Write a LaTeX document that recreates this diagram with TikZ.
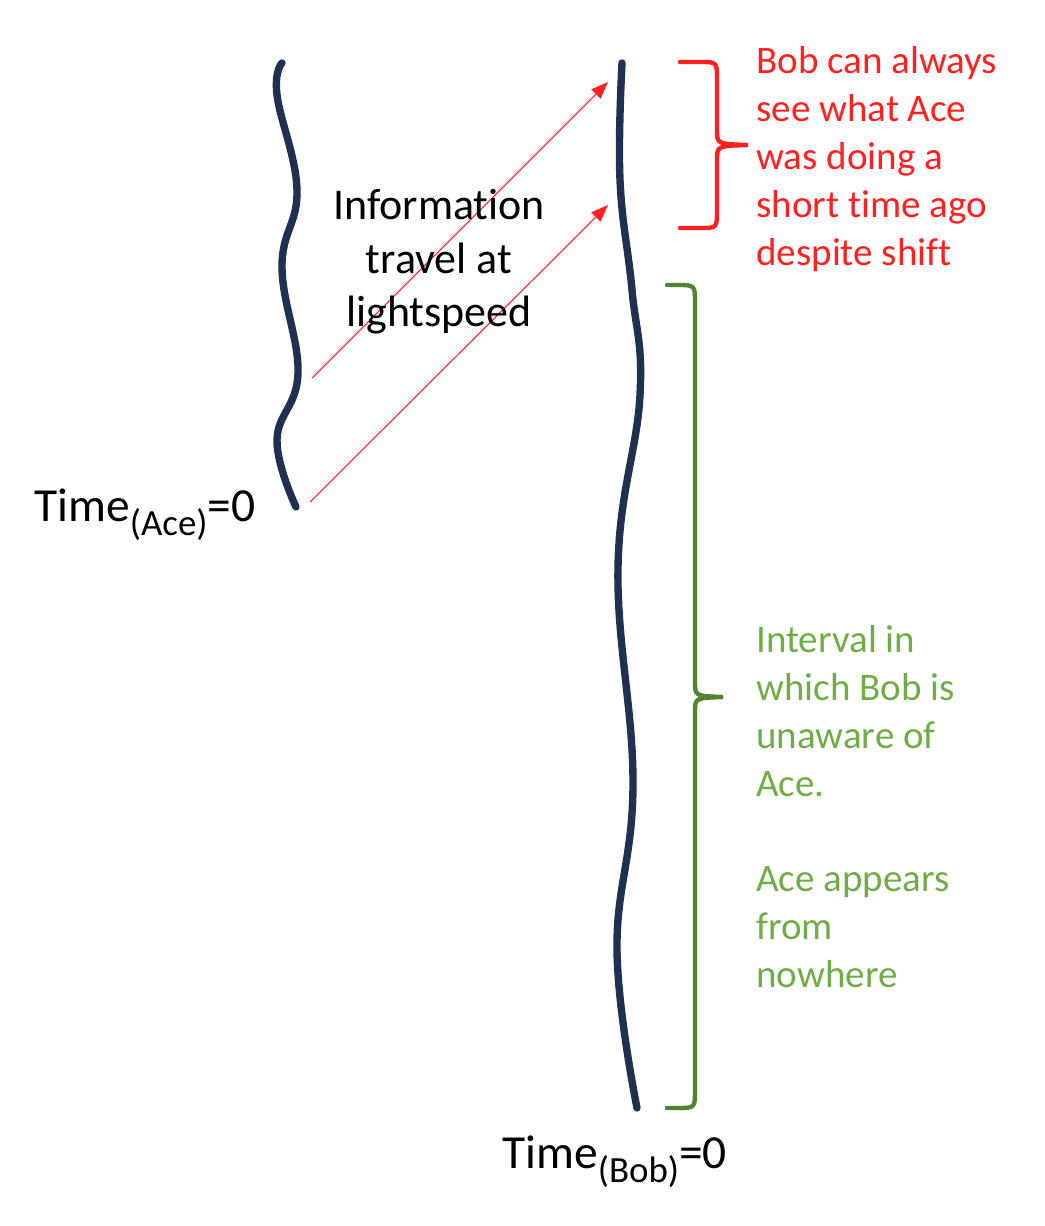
\documentclass[tikz,border=0pt]{standalone}
\usepackage{fontspec}
\setmainfont{Carlito}[Ligatures=NoCommon]
\usepackage{xcolor}
\usepackage{tikz}
\usetikzlibrary{arrows.meta}
\definecolor{navyline}{HTML}{1F3050}
\definecolor{signalred}{HTML}{FF2020}
\definecolor{bracegreen}{HTML}{548235}
\definecolor{textgreen}{HTML}{70AD47}
\newcommand{\timesub}[1]{\raisebox{-8pt}{\fontsize{21}{21}\selectfont(#1)}}

\begin{document}
\begin{tikzpicture}[
		worldline/.style={navyline, line width=4.2pt, line cap=round},
		signal/.style={signalred, line width=0.6pt, -{Triangle[length=0.34cm, width=0.26cm]}},
		bracepath/.style={line width=2.5pt, line cap=round},
		note/.style={inner sep=0pt, align=left, font=\fontsize{22.2}{27.3}\selectfont},
		big/.style={inner sep=0pt, font=\fontsize{25}{30.5}\selectfont},
		timelabel/.style={inner sep=0pt, anchor=base west, font=\fontsize{27}{30}\selectfont}
	]
		\useasboundingbox (0,0) rectangle (20.88,-24.52);
		
		% world lines
		\draw [worldline] plot[smooth, tension=0.7] coordinates {(5.64,-1.26) (5.54,-1.9) (5.94,-3.8) (5.64,-5.34) (5.96,-7.46) (5.54,-8.8) (5.92,-10.14)};
		\draw [worldline] plot[smooth, tension=0.7] coordinates {(12.44,-1.26) (12.40,-3.6) (12.64,-5.8) (12.80,-7.9) (12.36,-11.34) (12.66,-15.68) (12.34,-19.0) (12.74,-22.16)};
		
		% light signals
		\coordinate (ace1) at (6.24,-7.56);
		\coordinate (bob1) at (12.16,-1.64);
		\coordinate (ace2) at (6.20,-10.04);
		\coordinate (bob2) at (12.16,-4.10);
		\draw [signal] (ace1) -- (bob1);
		\draw [signal] (ace2) -- (bob2);
		
		% braces
		\draw [bracepath, signalred] (13.6,-1.24) -- (14.0,-1.24) .. controls (14.34,-1.24) .. (14.34,-1.6) -- (14.34,-2.6) .. controls (14.34,-2.88) .. (14.96,-2.9)
			.. controls (14.34,-2.92) .. (14.34,-3.2) -- (14.34,-4.2) .. controls (14.34,-4.56) .. (14.0,-4.56) -- (13.6,-4.56);
		\draw [bracepath, bracegreen] (13.34,-5.7) -- (13.54,-5.7) .. controls (13.9,-5.7) .. (13.9,-6.06) -- (13.9,-13.64) .. controls (13.9,-13.92) .. (14.46,-13.94)
			.. controls (13.9,-13.96) .. (13.9,-14.24) -- (13.9,-21.8) .. controls (13.9,-22.16) .. (13.54,-22.16) -- (13.34,-22.16);
		
		% labels
		\node [big, align=center, anchor=north] (info) at (8.78,-3.78) {Information\\travel at\\lightspeed};
		\node [note, signalred, anchor=north west] (seen) at (15.12,-0.92) {Bob can always\\see what Ace\\was doing a\\short time ago\\despite shift};
		\node [note, textgreen, anchor=north west] (unaware) at (15.12,-12.5) {Interval in\\which Bob is\\unaware of\\Ace.\\[27pt]Ace appears\\from\\nowhere};
		\node [timelabel] (timeace) at (0.68,-10.42) {Time\timesub{Ace}=0};
		\node [timelabel] (timebob) at (10.04,-23.36) {Time\timesub{Bob}=0};
	\end{tikzpicture}
\end{document}
